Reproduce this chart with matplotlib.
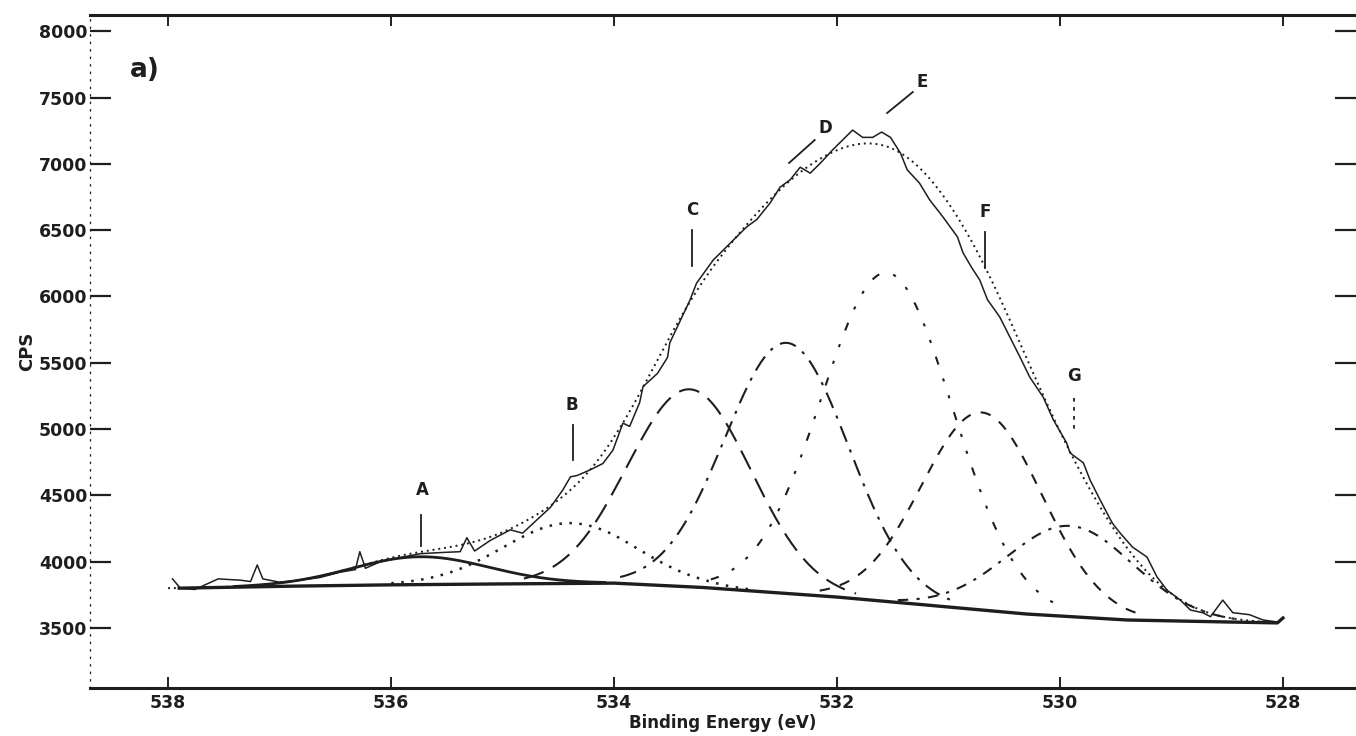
import numpy as np
import matplotlib
matplotlib.use("Agg")
import matplotlib.pyplot as plt

plt.rcParams['font.family'] = ['DejaVu Sans']

# ---- data ----
# measured spectrum (binding energy eV, counts per second)
be_data = [537.96, 537.89, 537.76, 537.55, 537.35, 537.26, 537.20, 537.15, 537.00, 536.82,
           536.64, 536.46, 536.32, 536.28, 536.23, 536.10, 535.92, 535.74, 535.52, 535.38,
           535.32, 535.25, 535.11, 534.93, 534.82, 534.66, 534.57, 534.46, 534.39, 534.33,
           534.22, 534.10, 534.01, 533.92, 533.86, 533.77, 533.74, 533.61, 533.52, 533.50,
           533.32, 533.26, 533.11, 532.96, 532.81, 532.72, 532.60, 532.51, 532.42, 532.33,
           532.24, 532.15, 532.04, 531.95, 531.86, 531.77, 531.68, 531.60, 531.52, 531.43,
           531.37, 531.26, 531.17, 531.05, 530.92, 530.87, 530.79, 530.72, 530.65, 530.54,
           530.45, 530.36, 530.27, 530.15, 530.06, 529.94, 529.91, 529.79, 529.73, 529.64,
           529.53, 529.46, 529.35, 529.22, 529.13, 529.04, 528.92, 528.83, 528.72, 528.65,
           528.54, 528.45, 528.30, 528.18, 528.05]
cps_data = [3870, 3800, 3790, 3870, 3860, 3850, 3975, 3870, 3845, 3860,
            3880, 3920, 3940, 4075, 3950, 3998, 4030, 4060, 4070, 4075,
            4180, 4080, 4160, 4240, 4215, 4340, 4410, 4540, 4640, 4650,
            4690, 4740, 4840, 5045, 5020, 5200, 5320, 5420, 5540, 5650,
            5970, 6100, 6275, 6400, 6525, 6580, 6705, 6825, 6880, 6975,
            6930, 7005, 7105, 7180, 7255, 7200, 7200, 7240, 7200, 7080,
            6955, 6855, 6730, 6600, 6450, 6330, 6215, 6125, 5975, 5845,
            5695, 5545, 5390, 5240, 5070, 4895, 4820, 4745, 4615, 4465,
            4290, 4215, 4110, 4035, 3885, 3785, 3710, 3635, 3615, 3585,
            3710, 3615, 3600, 3560, 3545]

# background (Shirley-type baseline)
be_bg = [537.90, 536.90, 536.00, 535.00, 534.00, 533.20, 532.00, 531.20, 530.30, 529.40, 528.50, 528.05, 528.00]
cps_bg = [3800, 3815, 3825, 3832, 3838, 3805, 3733, 3673, 3605, 3560, 3545, 3538, 3575]

# fitted components
peak_names = ['A', 'B', 'C', 'D', 'E', 'F', 'G']
peak_center = [535.74, 534.40, 533.32, 532.45, 531.55, 530.70, 529.91]
peak_height = [210, 455, 1490, 1890, 2480, 1490, 684]
peak_fwhm = [1.45, 1.40, 1.30, 1.30, 1.38, 1.27, 1.35]

x_ticks = [538, 536, 534, 532, 530, 528]
y_ticks = [3500, 4000, 4500, 5000, 5500, 6000, 6500, 7000, 7500, 8000]

# ---- figure ----
fig = plt.figure(figsize=(13.56, 7.36), dpi=100)
ax = fig.add_axes([90/1356, 1-688/736, 1266/1356, 673/736])
ax.set_xlim(538.70, 527.345)
ax.set_ylim(3047, 8123)

ink = '#1e1e1e'
grid = np.linspace(538.0, 528.0, 800)
bg = np.interp(grid[::-1], be_bg[::-1], cps_bg[::-1])[::-1]

styles = [
    dict(ls='-', lw=2.0),
    dict(ls=(0, (1, 3)), lw=1.8),
    dict(ls=(0, (10, 5)), lw=1.5),
    dict(ls=(0, (8, 4, 1.5, 4)), lw=1.5),
    dict(ls=(0, (4, 7, 1.5, 7, 1.5, 7)), lw=1.5),
    dict(ls=(0, (5, 5)), lw=1.5),
    dict(ls=(0, (5, 4, 1.5, 4)), lw=1.5),
]

envelope = bg.copy()
for c, h, w, st in zip(peak_center, peak_height, peak_fwhm, styles):
    comp = h * np.exp(-4 * np.log(2) * (grid - c) ** 2 / w ** 2)
    envelope += comp
    m = np.abs(grid - c) < 1.15 * w
    ax.plot(grid[m], (bg + comp)[m], color=ink, **st)

ax.plot(grid, envelope, color=ink, ls=(0, (1, 2)), lw=1.4)
ax.plot(be_data, cps_data, color=ink, lw=1.1)
ax.plot(be_bg, cps_bg, color=ink, lw=2.4)

# ---- peak labels with leader lines ----
lab_xy = {'A': (535.72, 4541), 'B': (534.38, 5182), 'C': (533.30, 6652), 'D': (532.10, 7271),
          'E': (531.24, 7618), 'F': (530.67, 6637), 'G': (529.87, 5400)}
leaders = {'A': ((535.73, 4352), (535.73, 4118)), 'B': ((534.37, 5031), (534.37, 4767)),
           'C': ((533.30, 6501), (533.30, 6230)), 'D': ((532.20, 7180), (532.43, 7007)),
           'E': ((531.32, 7542), (531.55, 7384)), 'F': ((530.67, 6486), (530.67, 6215)),
           'G': ((529.87, 5235), (529.87, 4978))}
for n in peak_names:
    ax.text(*lab_xy[n], n, ha='center', va='center', fontsize=12, fontweight='bold', color=ink)
    (x0, y0), (x1, y1) = leaders[n]
    ax.plot([x0, x1], [y0, y1], color=ink, lw=1.3,
            ls=(0, (2, 3)) if n == 'G' else '-')

ax.text(0.043, 0.918, 'a)', transform=ax.transAxes, fontsize=19, fontweight='bold',
        ha='center', va='center', color=ink)

# ---- axes styling ----
ax.set_xticks(x_ticks)
ax.set_yticks(y_ticks)
ax.set_xticklabels([str(v) for v in x_ticks], fontweight='bold')
ax.set_yticklabels([str(v) for v in y_ticks], fontweight='bold')
ax.tick_params(axis='y', which='both', direction='in', length=15, width=1.6, labelsize=12.5,
               pad=2, right=True, colors=ink)
ax.tick_params(axis='x', which='both', direction='in', length=8, width=1.4, labelsize=12.5,
               pad=4, top=True, colors=ink)
for s in ['top', 'bottom']:
    ax.spines[s].set_linewidth(2.2)
    ax.spines[s].set_color(ink)
ax.spines['right'].set_visible(False)
ax.spines['left'].set_linewidth(0.9)
ax.spines['left'].set_linestyle((0, (1, 5)))
ax.spines['left'].set_color(ink)

ax.set_xlabel('Binding Energy (eV)', fontsize=12, fontweight='bold', color=ink, labelpad=2)
ax.set_ylabel('CPS', fontsize=13, fontweight='bold', color=ink, labelpad=2)

fig.savefig('out.png', dpi=100, facecolor='white')
